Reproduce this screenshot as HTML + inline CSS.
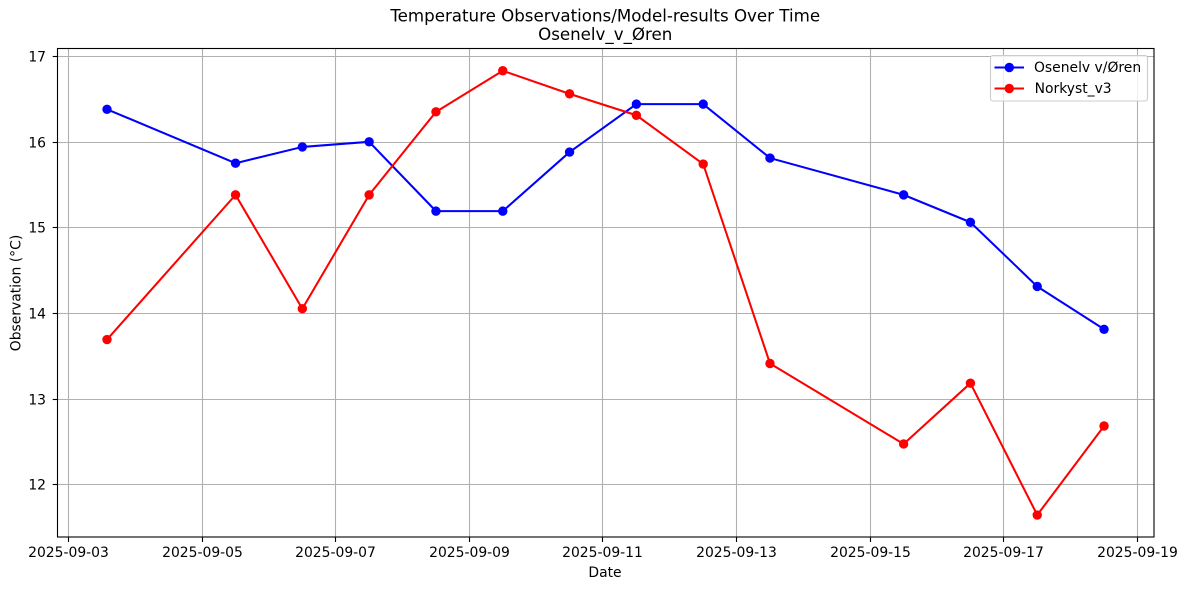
<!DOCTYPE html>
<html lang="en">
<head>
<meta charset="utf-8">
<title>Temperature Observations/Model-results Over Time</title>
<style>
  html, body { margin: 0; padding: 0; background: #fff; }
  body { width: 1187px; height: 590px; overflow: hidden; }
  svg { display: block; }
  text { font-family: "DejaVu Sans", "Liberation Sans", sans-serif; fill: #000; }
</style>
</head>
<body>
<svg id="chart" xmlns="http://www.w3.org/2000/svg" width="1187" height="590" viewBox="0 0 1187 590">
  <rect x="0" y="0" width="1187" height="590" fill="#ffffff"/>
  <g id="grid"></g>
  <g id="series"></g>
  <rect x="57.5" y="48.5" width="1096.5" height="488.5" fill="none" stroke="#000" stroke-width="1.1"/>
  <g id="ticks"></g>
  <text x="605.2" y="21.7" font-size="16.67" text-anchor="middle">Temperature Observations/Model-results Over Time</text>
  <text x="605.2" y="40" font-size="16.67" text-anchor="middle">Osenelv_v_Øren</text>
  <text x="605" y="577" font-size="13.9" text-anchor="middle">Date</text>
  <text transform="translate(20.5,293) rotate(-90)" font-size="13.9" text-anchor="middle">Observation (°C)</text>
  <g>
    <rect x="990.5" y="55.5" width="157" height="45.5" rx="2.5" fill="#ffffff" fill-opacity="0.8" stroke="#cccccc" stroke-width="1.1"/>
    <line x1="994.5" y1="67.5" x2="1024" y2="67.5" stroke="#0000ff" stroke-width="2.05"/>
    <circle cx="1009.3" cy="67.5" r="4.7" fill="#0000ff"/>
    <text x="1034" y="72" font-size="13.9">Osenelv v/Øren</text>
    <line x1="994.5" y1="88.5" x2="1024" y2="88.5" stroke="#ff0000" stroke-width="2.05"/>
    <circle cx="1009.3" cy="88.5" r="4.7" fill="#ff0000"/>
    <text x="1034.6" y="93" font-size="13.9">Norkyst_v3</text>
  </g>
</svg>
<script>
const dates = ["2025-09-03T13:50", "2025-09-05T12:00", "2025-09-06T12:00", "2025-09-07T12:00", "2025-09-08T12:00", "2025-09-09T12:00", "2025-09-10T12:00", "2025-09-11T12:00", "2025-09-12T12:00", "2025-09-13T12:00", "2025-09-15T12:00", "2025-09-16T12:00", "2025-09-17T12:00", "2025-09-18T12:00"];
const osenelvValues = [16.38, 15.75, 15.94, 16.0, 15.19, 15.19, 15.88, 16.44, 16.44, 15.81, 15.38, 15.06, 14.31, 13.81];
const norkystValues = [13.69, 15.38, 14.05, 15.38, 16.35, 16.83, 16.56, 16.31, 15.74, 13.41, 12.47, 13.18, 11.64, 12.68];
const xTickLabels = ["2025-09-03", "2025-09-05", "2025-09-07", "2025-09-09", "2025-09-11", "2025-09-13", "2025-09-15", "2025-09-17", "2025-09-19"];
const yTickLabels = ["12", "13", "14", "15", "16", "17"];

const NS = "http://www.w3.org/2000/svg";
const DAY_MS = 86400000;
const X_ORIGIN_MS = Date.parse("2025-09-03T00:00:00Z");

function xScale(dateText) {
  const ms = Date.parse(dateText.length > 10 ? dateText + ":00Z" : dateText + "T00:00:00Z");
  return 68.5 + (ms - X_ORIGIN_MS) / DAY_MS * 66.81;
}
function yScale(value) {
  return 56.2 + (17 - value) * 85.6;
}
function snapX(v) {
  return Math.round(v - 0.5) + 0.5;
}
function snapY(v) {
  return Math.round(v) + 0.5;
}
function svgEl(tag, attrs) {
  const el = document.createElementNS(NS, tag);
  for (const key in attrs) el.setAttribute(key, attrs[key]);
  return el;
}

const gridGroup = document.getElementById("grid");
const tickGroup = document.getElementById("ticks");
const seriesGroup = document.getElementById("series");

xTickLabels.forEach(function (label) {
  const x = snapX(xScale(label));
  const gridLine = svgEl("line", { x1: x, x2: x, y1: 48.5, y2: 537, stroke: "#b0b0b0", "stroke-width": 1.1 });
  
  
  gridGroup.appendChild(gridLine);
  const tick = svgEl("line", { x1: x, x2: x, y1: 537, y2: 542, stroke: "#000", "stroke-width": 1.1 });
  
  
  tickGroup.appendChild(tick);
  const text = svgEl("text", { x: x, y: 557.2, "font-size": 13.9, "text-anchor": "middle" });
  text.textContent = label;
  
  
  tickGroup.appendChild(text);
});

yTickLabels.forEach(function (label) {
  const y = snapY(yScale(Number(label)));
  const gridLine = svgEl("line", { x1: 57.5, x2: 1154, y1: y, y2: y, stroke: "#b0b0b0", "stroke-width": 1.1 });
  
  
  gridGroup.appendChild(gridLine);
  const tick = svgEl("line", { x1: 52.7, x2: 57.5, y1: y, y2: y, stroke: "#000", "stroke-width": 1.1 });
  
  
  tickGroup.appendChild(tick);
  const text = svgEl("text", { x: 46, y: y + 5.2, "font-size": 13.9, "text-anchor": "end" });
  text.textContent = label;
  
  
  tickGroup.appendChild(text);
});

function drawSeries(values, color, lineName, pointName) {
  const pts = values.map(function (v, i) {
    return xScale(dates[i]).toFixed(2) + "," + yScale(v).toFixed(2);
  }).join(" ");
  const line = svgEl("polyline", { points: pts, fill: "none", stroke: color, "stroke-width": 2.05, "stroke-linejoin": "round" });
  
  
  seriesGroup.appendChild(line);
  values.forEach(function (v, i) {
    const dot = svgEl("circle", { cx: xScale(dates[i]), cy: yScale(v), r: 4.7, fill: color });
    
    
    seriesGroup.appendChild(dot);
  });
}

drawSeries(osenelvValues, "#0000ff", "osenelv-line", "osenelv-point");
drawSeries(norkystValues, "#ff0000", "norkyst-line", "norkyst-point");
</script>
</body>
</html>
